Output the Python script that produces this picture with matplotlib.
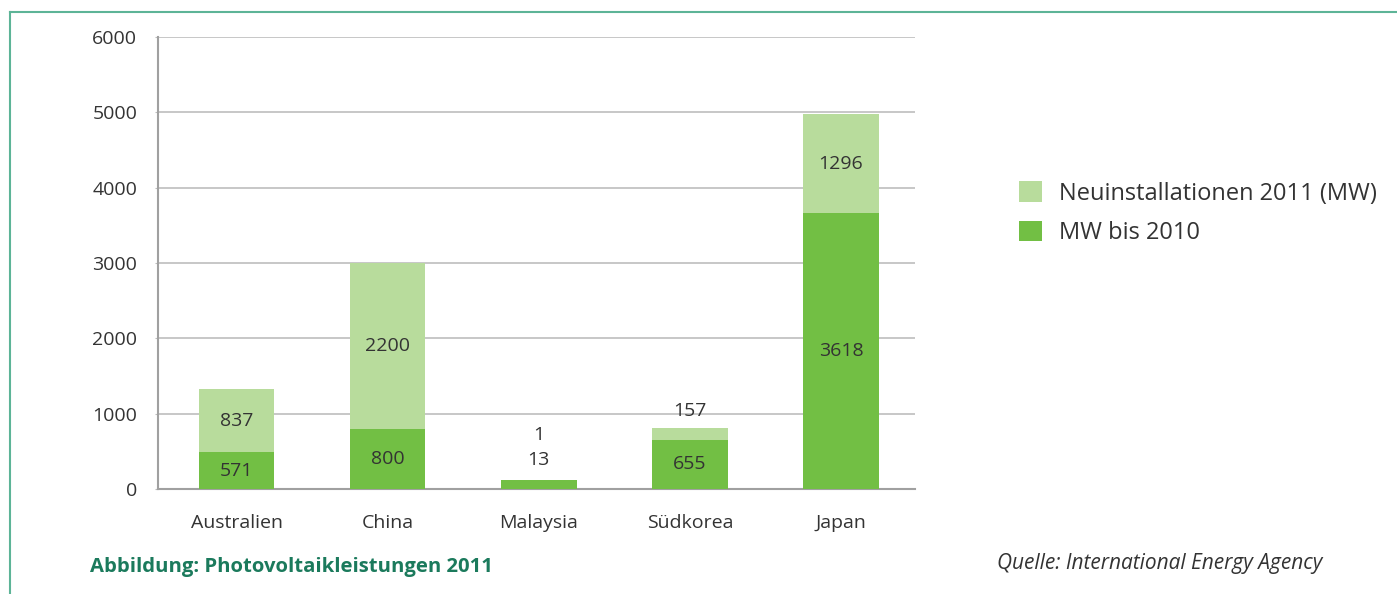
#!/usr/bin/env python3
"""Stacked bar chart: Photovoltaikleistungen 2011 (MW bis 2010 + Neuinstallationen 2011)."""

import matplotlib
matplotlib.use("Agg")
import matplotlib.pyplot as plt
from matplotlib.patches import Patch
from matplotlib.lines import Line2D

plt.rcParams["font.family"] = ["Open Sans", "DejaVu Sans"]

# --------------------------------------------------------------------------- #
# Data (bar heights as drawn in the source; labels as printed)
# --------------------------------------------------------------------------- #
COUNTRIES = ["Australien", "China", "Malaysia", "Südkorea", "Japan"]
MW_BIS_2010 = [485, 795, 120, 655, 3665]          # drawn height, dark segment
NEU_2011 = [845, 2205, 1, 155, 1310]              # drawn height, light segment
LABEL_BIS_2010 = ["571", "800", "13", "655", "3618"]
LABEL_NEU_2011 = ["837", "2200", "1", "157", "1296"]
Y_TICKS = [0, 1000, 2000, 3000, 4000, 5000, 6000]

DARK = "#72bf44"
LIGHT = "#b8dc9c"
TEXT = "#333333"
GRID = "#bdbdbd"
TEAL = "#1b7a5c"
FRAME = "#5db497"
FS = 14

fig = plt.figure(figsize=(13.97, 5.94), dpi=100)
ax = fig.add_axes([158 / 1397, 1 - 489 / 594, (915 - 158) / 1397, (489 - 37) / 594])

x = range(len(COUNTRIES))
b1 = ax.bar(x, MW_BIS_2010, width=0.5, color=DARK, zorder=3)
b2 = ax.bar(x, NEU_2011, width=0.5, bottom=MW_BIS_2010, color=LIGHT, zorder=3)

# segment labels: centred when the segment is tall enough, else stacked above the bar
for i, (lo, hi) in enumerate(zip(MW_BIS_2010, NEU_2011)):
    top = lo + hi
    if lo > 300:
        ax.text(i, lo / 2, LABEL_BIS_2010[i], ha="center", va="center",
                fontsize=FS, color=TEXT, zorder=4)
        if hi > 300:
            ax.text(i, lo + hi / 2, LABEL_NEU_2011[i], ha="center", va="center",
                    fontsize=FS, color=TEXT, zorder=4)
        else:
            ax.annotate(LABEL_NEU_2011[i], (i, top), xytext=(0, 12),
                        textcoords="offset points", ha="center", va="center",
                        fontsize=FS, color=TEXT)
    else:
        ax.annotate(LABEL_BIS_2010[i], (i, top), xytext=(0, 14),
                    textcoords="offset points", ha="center", va="center",
                    fontsize=FS, color=TEXT)
        ax.annotate(LABEL_NEU_2011[i], (i, top), xytext=(0, 32),
                    textcoords="offset points", ha="center", va="center",
                    fontsize=FS, color=TEXT)

ax.set_xlim(-0.52, 4.49)
ax.set_ylim(0, 6000)
ax.set_yticks(Y_TICKS)
ax.set_xticks(list(x))
ax.set_xticklabels(COUNTRIES)
ax.tick_params(axis="y", length=2, color=GRID, pad=13, labelsize=FS, labelcolor=TEXT)
ax.tick_params(axis="x", length=0, pad=18, labelsize=FS, labelcolor=TEXT)
ax.grid(axis="y", color=GRID, lw=1.2, zorder=0)
for s in ("top", "right"):
    ax.spines[s].set_visible(False)
for s in ("left", "bottom"):
    ax.spines[s].set_color("#a0a0a0")
    ax.spines[s].set_linewidth(1.5)

# legend
handles = [Patch(facecolor=LIGHT, edgecolor="none"), Patch(facecolor=DARK, edgecolor="none")]
fig.legend(handles, ["Neuinstallationen 2011 (MW)", "MW bis 2010"],
           loc="upper left", bbox_to_anchor=(998 / 1397, 1 - 160 / 594),
           frameon=False, fontsize=17, labelcolor=TEXT, handlelength=0.95,
           handleheight=0.95, handletextpad=0.75, labelspacing=0.65)

# captions
fig.text(90 / 1397, 1 - 567 / 594, "Abbildung: Photovoltaikleistungen 2011",
         fontsize=14.6, fontweight="bold", color=TEAL, va="center", ha="left")
fig.text(1322 / 1397, 1 - 563 / 594, "Quelle: International Energy Agency",
         fontsize=15, style="italic", color=TEXT, va="center", ha="right")

# thin teal frame (top and left edges)
fig.add_artist(Line2D([10 / 1397, 1.0], [1 - 12 / 594] * 2, color=FRAME, lw=1.5,
                      transform=fig.transFigure))
fig.add_artist(Line2D([10 / 1397] * 2, [0, 1 - 12 / 594], color=FRAME, lw=1.5,
                      transform=fig.transFigure))

fig.savefig("out.png", dpi=100)
